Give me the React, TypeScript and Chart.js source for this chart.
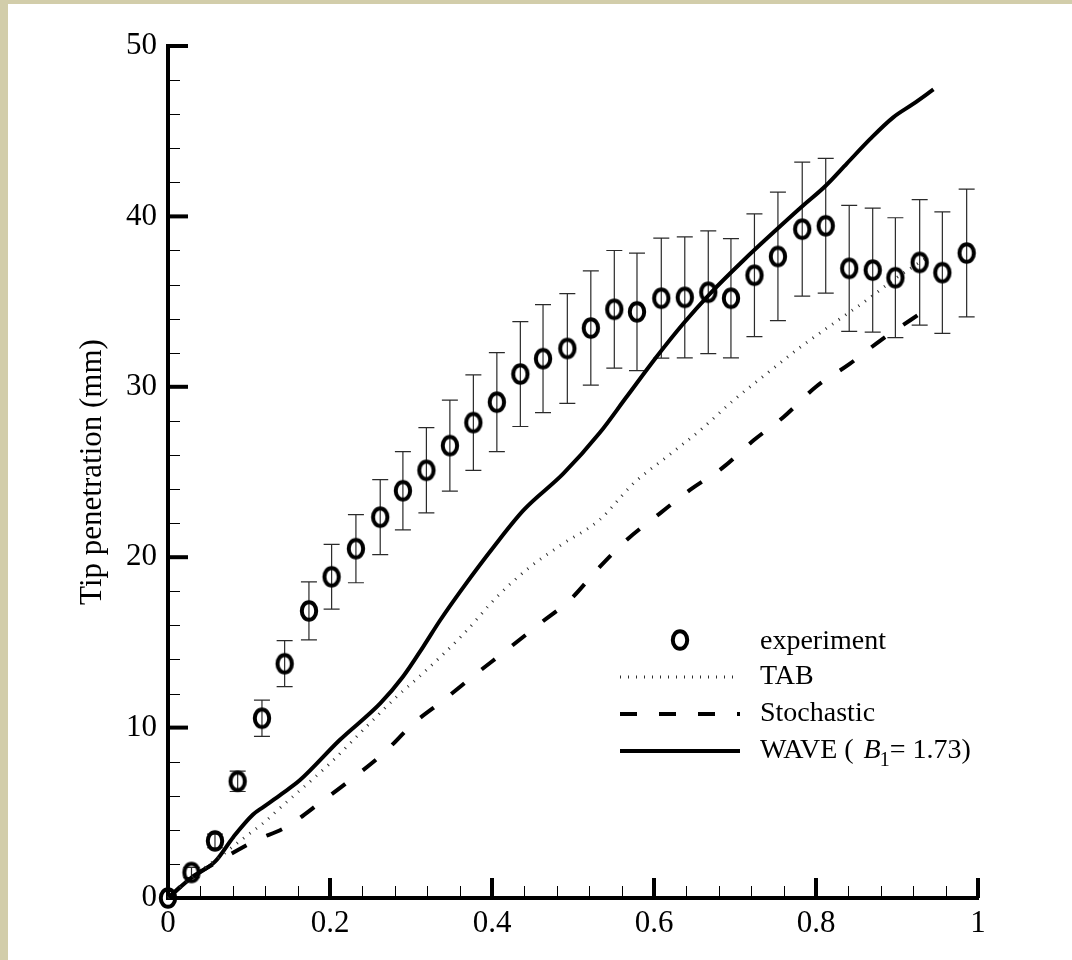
import React, { useEffect, useRef } from 'react';
import { Chart, registerables } from 'chart.js';

Chart.register(...registerables);

const FONT = '"Liberation Serif", "Times New Roman", serif';

// experiment (circles with error bars)
const expX = [0, 0.029, 0.058, 0.086, 0.116, 0.144, 0.174, 0.202, 0.232, 0.262, 0.29, 0.319, 0.348, 0.377, 0.406, 0.435, 0.463, 0.493, 0.522, 0.551, 0.579, 0.609, 0.638, 0.667, 0.695, 0.724, 0.753, 0.783, 0.812, 0.841, 0.87, 0.898, 0.928, 0.956, 0.986];
const expY = [0, 1.5, 3.35, 6.85, 10.55, 13.75, 16.85, 18.85, 20.5, 22.35, 23.9, 25.1, 26.55, 27.9, 29.1, 30.75, 31.65, 32.25, 33.45, 34.55, 34.4, 35.2, 35.25, 35.55, 35.2, 36.55, 37.65, 39.25, 39.45, 36.95, 36.85, 36.4, 37.3, 36.7, 37.85];
const expErr = [0, 0.3, 0.4, 0.6, 1.06, 1.35, 1.7, 1.9, 2.0, 2.2, 2.3, 2.5, 2.67, 2.8, 2.9, 3.08, 3.17, 3.22, 3.35, 3.45, 3.45, 3.52, 3.55, 3.6, 3.5, 3.6, 3.77, 3.93, 3.95, 3.7, 3.64, 3.52, 3.68, 3.56, 3.75];

// TAB (dotted)
const tabX = [0, 0.029, 0.064, 0.093, 0.122, 0.134, 0.2, 0.249, 0.282, 0.315, 0.365, 0.406, 0.447, 0.488, 0.533, 0.574, 0.616, 0.657, 0.698, 0.739, 0.78, 0.821, 0.863, 0.895, 0.939];
const tabY = [0, 1.2, 2.42, 3.5, 4.57, 5.1, 7.9, 10.25, 11.8, 13.2, 15.5, 17.67, 19.43, 20.8, 22.2, 24.3, 25.9, 27.45, 29.2, 30.77, 32.3, 33.7, 35.1, 36.25, 37.65];

// Stochastic (dashed)
const stoX = [0, 0.029, 0.06, 0.093, 0.109, 0.1465, 0.1866, 0.225, 0.266, 0.303, 0.34, 0.381, 0.418, 0.459, 0.496, 0.533, 0.566, 0.607, 0.644, 0.686, 0.723, 0.76, 0.8, 0.842, 0.879, 0.935];
const stoY = [0, 1.2, 2.1, 3.0, 3.4, 4.18, 5.55, 6.92, 8.49, 10.24, 11.6, 13.18, 14.55, 16.1, 17.48, 19.43, 21.0, 22.56, 23.93, 25.3, 26.86, 28.23, 30.0, 31.36, 32.7, 34.5];

// WAVE (solid)
const waveX = [0, 0.029, 0.058, 0.081, 0.105, 0.118, 0.14, 0.163, 0.212, 0.262, 0.29, 0.315, 0.336, 0.365, 0.402, 0.439, 0.488, 0.533, 0.566, 0.603, 0.636, 0.669, 0.71, 0.753, 0.782, 0.812, 0.838, 0.867, 0.895, 0.92, 0.945];
const waveY = [0, 1.2, 2.13, 3.6, 4.9, 5.35, 6.1, 6.92, 9.27, 11.42, 12.98, 14.74, 16.3, 18.26, 20.6, 22.76, 24.9, 27.3, 29.4, 31.75, 33.7, 35.46, 37.4, 39.3, 40.55, 41.8, 43.1, 44.55, 45.8, 46.6, 47.45];

const xMajorTicks = [0, 0.2, 0.4, 0.6, 0.8, 1];
const yMajorTicks = [0, 10, 20, 30, 40, 50];
const yTitle = 'Tip penetration (mm)';
const legendLabels = ['experiment', 'TAB', 'Stochastic'];
const waveLabelParts = ['WAVE ( ', 'B', '1', '= 1.73)'];

function makeRing(): HTMLCanvasElement {
  const c = document.createElement('canvas');
  c.width = 24;
  c.height = 28;
  const g = c.getContext('2d')!;
  g.strokeStyle = '#000';
  g.lineWidth = 4;
  g.beginPath();
  g.ellipse(12, 14, 7.2, 8.8, 0, 0, Math.PI * 2);
  g.stroke();
  return c;
}

const pts = (xs: number[], ys: number[]) => xs.map((x, i) => ({ x, y: ys[i] }));

export default function App() {
  const ref = useRef<HTMLCanvasElement>(null);

  useEffect(() => {
    const ring = makeRing();

    const errorBars = {
      id: 'errorBars',
      beforeDatasetsDraw(chart: any) {
        const { ctx, scales } = chart;
        ctx.save();
        ctx.strokeStyle = '#2a2a2a';
        ctx.lineWidth = 1.2;
        expX.forEach((x, i) => {
          const e = expErr[i];
          if (!e) return;
          const px = scales.x.getPixelForValue(x);
          const top = scales.y.getPixelForValue(expY[i] + e);
          const bot = scales.y.getPixelForValue(expY[i] - e);
          ctx.beginPath();
          ctx.moveTo(px, top);
          ctx.lineTo(px, bot);
          ctx.moveTo(px - 8, top);
          ctx.lineTo(px + 8, top);
          ctx.moveTo(px - 8, bot);
          ctx.lineTo(px + 8, bot);
          ctx.stroke();
        });
        ctx.restore();
      },
    };

    const axisTicks = {
      id: 'axisTicks',
      beforeDatasetsDraw(chart: any) {
        const { ctx, scales, chartArea } = chart;
        const L = chartArea.left;
        const B = chartArea.bottom;
        ctx.save();
        ctx.strokeStyle = '#000';
        ctx.lineWidth = 1;
        for (let k = 0; k <= 25; k++) {
          if (k % 5 === 0) continue;
          const px = Math.round(scales.x.getPixelForValue(k * 0.04)) + 0.5;
          ctx.beginPath();
          ctx.moveTo(px, B);
          ctx.lineTo(px, B - 12);
          ctx.stroke();
        }
        for (let k = 0; k <= 25; k++) {
          if (k % 5 === 0) continue;
          const py = Math.round(scales.y.getPixelForValue(k * 2)) + 0.5;
          ctx.beginPath();
          ctx.moveTo(L, py);
          ctx.lineTo(L + 12, py);
          ctx.stroke();
        }
        ctx.lineWidth = 4;
        xMajorTicks.forEach((v) => {
          const px = scales.x.getPixelForValue(v);
          ctx.beginPath();
          ctx.moveTo(px, B);
          ctx.lineTo(px, B - 20);
          ctx.stroke();
        });
        yMajorTicks.forEach((v) => {
          const py = scales.y.getPixelForValue(v);
          ctx.beginPath();
          ctx.moveTo(L, py);
          ctx.lineTo(L + 20, py);
          ctx.stroke();
        });
        ctx.restore();
      },
    };

    const innerLegend = {
      id: 'innerLegend',
      afterDatasetsDraw(chart: any) {
        const { ctx, chartArea } = chart;
        const x0 = chartArea.left + 452;
        const x1 = x0 + 120;
        const tx = x1 + 20;
        const rows = [chartArea.top + 596, chartArea.top + 631, chartArea.top + 668, chartArea.top + 705];
        const ds = chart.data.datasets;
        ctx.save();
        ctx.fillStyle = '#000';
        ctx.textBaseline = 'middle';
        ctx.textAlign = 'left';
        ctx.font = `28px ${FONT}`;
        ctx.drawImage(ring, (x0 + x1) / 2 - ring.width / 2, rows[0] - ring.height / 2 - 2);
        ctx.fillText(legendLabels[0], tx, rows[0]);
        for (let i = 1; i <= 3; i++) {
          const d = ds[i];
          ctx.save();
          ctx.strokeStyle = d.borderColor;
          ctx.lineWidth = d.borderWidth;
          ctx.setLineDash(d.borderDash || []);
          ctx.beginPath();
          ctx.moveTo(x0, rows[i]);
          ctx.lineTo(x1, rows[i]);
          ctx.stroke();
          ctx.restore();
        }
        ctx.fillText(legendLabels[1], tx, rows[1]);
        ctx.fillText(legendLabels[2], tx, rows[2]);
        let cx = tx;
        const y = rows[3];
        ctx.font = `28px ${FONT}`;
        ctx.fillText(waveLabelParts[0], cx, y);
        cx += ctx.measureText(waveLabelParts[0]).width + 3;
        ctx.font = `italic 28px ${FONT}`;
        ctx.fillText(waveLabelParts[1], cx, y);
        cx += ctx.measureText(waveLabelParts[1]).width - 1;
        ctx.font = `20px ${FONT}`;
        ctx.fillText(waveLabelParts[2], cx, y + 10);
        cx += ctx.measureText(waveLabelParts[2]).width;
        ctx.font = `28px ${FONT}`;
        ctx.fillText(waveLabelParts[3], cx, y);
        ctx.restore();
      },
    };

    const chart = new Chart(ref.current!, {
      type: 'scatter',
      data: {
        datasets: [
          {
            label: legendLabels[0],
            data: pts(expX, expY),
            showLine: false,
            pointStyle: ring as any,
            pointRadius: 10,
            pointHoverRadius: 10,
            borderColor: '#000',
            backgroundColor: '#000',
            clip: false as any,
          },
          {
            label: legendLabels[1],
            data: pts(tabX, tabY),
            showLine: true,
            borderColor: '#2e2e2e',
            borderWidth: 3,
            borderDash: [1, 7],
            pointRadius: 0,
            cubicInterpolationMode: 'monotone',
            clip: false as any,
          },
          {
            label: legendLabels[2],
            data: pts(stoX, stoY),
            showLine: true,
            borderColor: '#000',
            borderWidth: 4,
            borderDash: [17, 22],
            pointRadius: 0,
            cubicInterpolationMode: 'monotone',
            clip: false as any,
          },
          {
            label: 'WAVE',
            data: pts(waveX, waveY),
            showLine: true,
            borderColor: '#000',
            borderWidth: 4,
            pointRadius: 0,
            cubicInterpolationMode: 'monotone',
            clip: false as any,
          },
        ],
      },
      options: {
        responsive: false,
        animation: false,
        events: [],
        layout: { padding: { left: 0, top: 42, right: 94, bottom: 0 } },
        plugins: { legend: { display: false }, tooltip: { enabled: false } },
        scales: {
          x: {
            type: 'linear',
            min: 0,
            max: 1,
            grid: { display: false, drawTicks: false },
            border: { display: true, color: '#000', width: 4 },
            ticks: {
              stepSize: 0.2,
              padding: 7,
              color: '#000',
              maxRotation: 0,
              autoSkip: false,
              font: { family: FONT, size: 31 },
              callback: (v: any) => String(Number(Number(v).toFixed(2))),
            },
            afterFit: (s: any) => {
              s.height = 62;
            },
          },
          y: {
            type: 'linear',
            min: 0,
            max: 50,
            grid: { display: false, drawTicks: false },
            border: { display: true, color: '#000', width: 4 },
            ticks: {
              stepSize: 10,
              padding: 11,
              color: '#000',
              font: { family: FONT, size: 31 },
            },
            title: {
              display: true,
              text: yTitle,
              color: '#000',
              font: { family: FONT, size: 31 },
              padding: { top: 66, bottom: 0 },
            },
            afterFit: (s: any) => {
              s.width = 160;
            },
          },
        },
      },
      plugins: [errorBars, axisTicks, innerLegend],
    } as any);

    return () => chart.destroy();
  }, []);

  return (
    <div style={{ position: 'fixed', left: 0, top: 0, width: 1072, height: 960, background: '#d2cdaa' }}>
      <canvas
        ref={ref}
        width={1064}
        height={956}
        style={{ position: 'absolute', left: 8, top: 4, width: 1064, height: 956, background: '#fff' }}
      />
    </div>
  );
}
